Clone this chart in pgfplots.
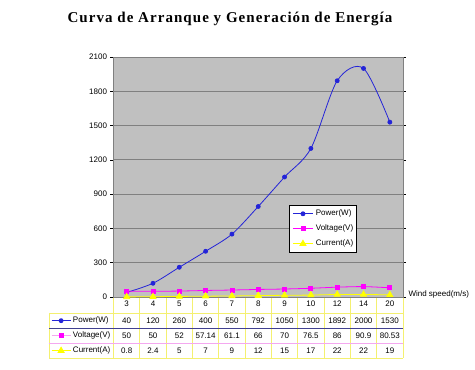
\documentclass[border=0pt]{standalone}
\usepackage{fontspec}
\setmainfont{Liberation Sans}
\newfontfamily\titlefont[LetterSpace=7]{Liberation Serif}
\usepackage{pgfplots}
\usepackage{pgfplotstable}
\pgfplotsset{compat=1.18}
\definecolor{plotbg}{HTML}{C0C0C0}
\definecolor{gridc}{HTML}{808080}
\definecolor{pw}{HTML}{2424D8}
\definecolor{vc}{HTML}{FF00FF}
\definecolor{cc}{HTML}{FFFF00}
\definecolor{tabyel}{HTML}{F4F070}
\definecolor{tabpink}{HTML}{F4A8F0}
\definecolor{tabblue}{HTML}{404090}
\pgfplotstableread{
x cat power voltage current
0 3 40 50 0.8
1 4 120 50 2.4
2 5 260 52 5
3 6 400 57.14 7
4 7 550 61.1 9
5 8 792 66 12
6 9 1050 70 15
7 10 1300 76.5 17
8 12 1892 86 22
9 14 2000 90.9 22
10 20 1530 80.53 19
}\datatable
\begin{document}
\begin{tikzpicture}
\useasboundingbox (0pt,0pt) rectangle (475pt,370pt);
\fill[white] (0pt,0pt) rectangle (475pt,370pt);
\node[anchor=base, font=\titlefont\bfseries\fontsize{15}{17}\selectfont] at (230pt,347pt) {Curva de Arranque y Generación de Energía};
% data table grid
\foreach \k in {0,...,11} { \draw[tabyel, line width=0.8pt] ({(113.5+26.318*\k)*1pt},73pt) -- ({(113.5+26.318*\k)*1pt},12pt); }
\draw[tabyel, line width=0.8pt] (49pt,57pt) -- (49pt,12pt);
\draw[tabyel, line width=0.8pt] (49pt,57pt) -- (403pt,57pt);
\draw[tabblue, line width=0.8pt] (49pt,42pt) -- (403pt,42pt);
\draw[tabpink, line width=0.8pt] (49pt,27pt) -- (403pt,27pt);
\draw[tabyel, line width=0.8pt] (49pt,12pt) -- (403pt,12pt);
\node[anchor=west, font=\fontsize{8}{9}\selectfont] at (405pt,76pt) {Wind speed(m/s)};
\begin{axis}[
  at={(113.5pt,73pt)}, anchor=south west, scale only axis,
  width=289.5pt, height=240pt,
  xmin=-0.5, xmax=10.5, ymin=0, ymax=2100,
  ytick={0,300,...,2100}, xtick=\empty,
  axis background/.style={fill=plotbg},
  ymajorgrids, grid style={gridc, line width=0.8pt},
  axis line style={gridc, line width=0.8pt},
  tick align=outside, major tick length=3pt,
  ytick style={black, line width=0.5pt},
  yticklabel style={font=\fontsize{8}{9}\selectfont},
  /pgf/number format/assume math mode=true,
  /pgf/number format/set thousands separator={},
  clip=false,
  legend style={at={(0.6075,0.383)}, anchor=north west, draw=black, fill=white,
    font=\fontsize{8}{9}\selectfont, inner xsep=3pt, inner ysep=4.5pt, row sep=7pt,
    nodes={inner sep=0pt, text height=6pt, text depth=2pt},
    /tikz/every odd column/.append style={column sep=2.5pt}},
  legend cell align=left,
  legend image code/.code={\draw[mark repeat=2,mark phase=2] plot coordinates {(0pt,0pt)(10pt,0pt)(20pt,0pt)};},
]
\addplot[pw, line width=0.8pt, smooth, mark=*, mark size=2pt, mark options={fill=pw}] table[x=x, y=power]{\datatable};
\addlegendentry{Power(W)}
\addplot[vc, line width=0.8pt, smooth, mark=square*, mark size=2pt, mark options={fill=vc}] table[x=x, y=voltage]{\datatable};
\addlegendentry{Voltage(V)}
\addplot[cc, line width=0.8pt, smooth, mark=triangle*, mark size=3.5pt, mark options={fill=cc}] table[x=x, y=current]{\datatable};
\addlegendentry{Current(A)}
% table texts
\addplot[forget plot, draw=none, mark=none, nodes near coords, point meta=explicit symbolic,
  every node near coord/.append style={anchor=center, font=\fontsize{8}{9}\selectfont}] table[x=x, y expr=-61.25, meta=cat]{\datatable};
\addplot[forget plot, draw=none, mark=none, nodes near coords, point meta=explicit symbolic,
  every node near coord/.append style={anchor=center, font=\fontsize{8}{9}\selectfont}] table[x=x, y expr=-210, meta=power]{\datatable};
\addplot[forget plot, draw=none, mark=none, nodes near coords, point meta=explicit symbolic,
  every node near coord/.append style={anchor=center, font=\fontsize{8}{9}\selectfont}] table[x=x, y expr=-341.25, meta=voltage]{\datatable};
\addplot[forget plot, draw=none, mark=none, nodes near coords, point meta=explicit symbolic,
  every node near coord/.append style={anchor=center, font=\fontsize{8}{9}\selectfont}] table[x=x, y expr=-472.5, meta=current]{\datatable};
\end{axis}
\begin{axis}[
  at={(113.5pt,73pt)}, anchor=south west, scale only axis,
  width=289.5pt, height=240pt, hide axis,
  xmin=0, xmax=1, ymin=0, ymax=1,
  legend style={at={(-0.2159,-0.08125)}, anchor=north west, draw=none, fill=none,
    font=\fontsize{8}{9}\selectfont, inner sep=0pt, row sep=7pt,
    nodes={inner sep=0pt, text height=6pt, text depth=2pt},
    /tikz/every odd column/.append style={column sep=2pt}},
  legend cell align=left,
  legend image code/.code={\draw[mark repeat=2,mark phase=2] plot coordinates {(0pt,0pt)(9.5pt,0pt)(19pt,0pt)};},
]
\addlegendimage{pw, line width=0.8pt, mark=*, mark size=2pt, mark options={fill=pw}}
\addlegendentry{Power(W)}
\addlegendimage{tabpink, line width=0.8pt, mark=square*, mark size=2pt, mark options={fill=vc, draw=vc}}
\addlegendentry{Voltage(V)}
\addlegendimage{cc, line width=0.8pt, mark=triangle*, mark size=3.5pt, mark options={fill=cc}}
\addlegendentry{Current(A)}
\end{axis}
\end{tikzpicture}
\end{document}
